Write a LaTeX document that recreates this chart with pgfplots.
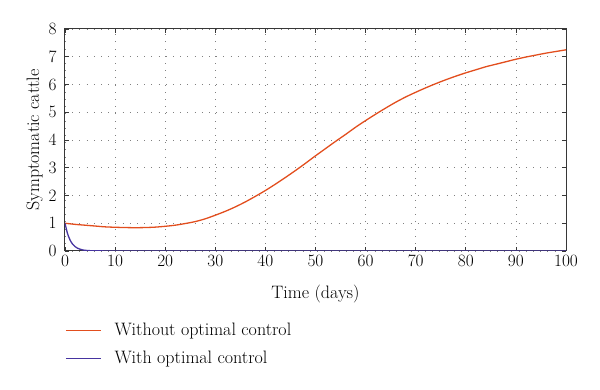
\documentclass[border=0pt]{standalone}
\usepackage{pgfplots}
\pgfplotsset{compat=1.18}
\definecolor{corange}{RGB}{226,78,30}
\definecolor{cblue}{RGB}{70,52,160}
\definecolor{axgray}{RGB}{55,55,55}
\begin{document}
\begin{tikzpicture}[x=1pt,y=1pt]
\useasboundingbox (0,0) rectangle (600,390);
\begin{axis}[
  at={(65pt,139pt)}, anchor=south west,
  scale only axis, width=501pt, height=222pt,
  xmin=0, xmax=100, ymin=0, ymax=8,
  xtick={0,10,...,100}, ytick={0,1,...,8},
  axis line style={axgray, line width=1pt},
  tick style={axgray, line width=0.7pt},
  major tick length=4pt,
  tick align=inside,
  grid=major,
  major grid style={gray, line width=0.7pt, dash pattern=on 0.7pt off 6.5pt},
  ticklabel style={font=\fontsize{18}{21}\selectfont},
  xticklabel style={yshift=-1pt},
  yticklabel style={xshift=-5pt},
  label style={font=\fontsize{18}{21}\selectfont},
  xlabel={Time (days)},
  ylabel={Symptomatic cattle},
  xlabel style={yshift=-11pt},
  ylabel style={yshift=-1pt},
  legend style={at={(0,-0.32)}, anchor=north west, draw=none, fill=none,
    font=\fontsize{18}{21}\selectfont, row sep=12pt, column sep=12pt, inner sep=0pt,
    nodes={inner sep=1pt}},
  legend cell align=left,
  legend image code/.code={\draw[#1] (0pt,0pt) -- (35pt,0pt);},
]
\addplot[corange, line width=1.3pt, smooth] coordinates {
(0,1.00) (2,0.96) (4,0.93) (6,0.90) (8,0.87) (10,0.855) (12,0.845) (14,0.84) (16,0.845)
(18,0.86) (20,0.89) (22,0.93) (24,0.99) (26,1.06) (28,1.16) (30,1.29) (32,1.43)
(34,1.59) (36,1.77) (38,1.97) (40,2.18) (42,2.41) (44,2.65) (46,2.90) (48,3.16)
(50,3.43) (52,3.69) (54,3.95) (56,4.20) (58,4.46) (60,4.70) (62,4.93) (64,5.15)
(66,5.36) (68,5.55) (70,5.72) (72,5.88) (74,6.03) (76,6.17) (78,6.30) (80,6.42)
(82,6.53) (84,6.64) (86,6.73) (88,6.82) (90,6.91) (92,6.99) (94,7.06) (96,7.13)
(98,7.19) (100,7.25)};
\addlegendentry{Without optimal control}
\addplot[cblue, line width=1.3pt, smooth] coordinates {
(0,1.00) (0.5,0.63) (1,0.40) (1.5,0.25) (2,0.16) (2.5,0.10) (3,0.065) (3.5,0.04)
(4,0.025) (5,0.012) (6,0.006) (8,0.003) (10,0.002) (20,0.002) (40,0.002) (60,0.002)
(80,0.002) (100,0.002)};
\addlegendentry{With optimal control}
\end{axis}
\end{tikzpicture}
\end{document}
